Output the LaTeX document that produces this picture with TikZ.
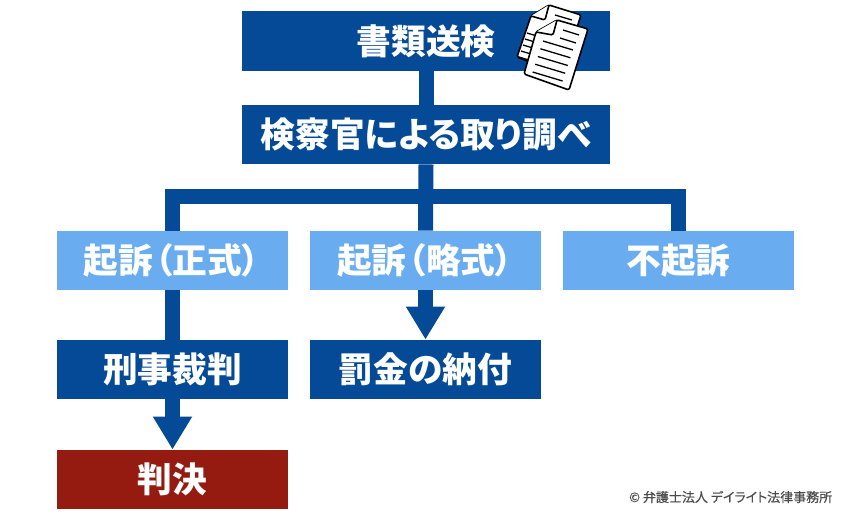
\documentclass[tikz,border=0pt]{standalone}
\usepackage{fontspec}
\newfontfamily\cjk[RawFeature=+palt]{Noto Sans CJK JP}
\newfontfamily\cjkthin[RawFeature=+palt,FakeBold=0.5]{Noto Sans CJK JP}
\usetikzlibrary{arrows.meta,positioning}
\definecolor{navy}{HTML}{044A96}
\definecolor{sky}{HTML}{69ADF0}
\definecolor{crimson}{HTML}{951A10}

\begin{document}
\begin{tikzpicture}[
    x=1pt, y=-1pt,
    block/.style={fill=navy, text=white, minimum height=59.5pt, inner sep=0pt, font=\cjk\fontsize{34.7}{35}\selectfont\bfseries},
    wide/.style={block, minimum width=368pt},
    narrow/.style={block, minimum width=231pt},
    branch/.style={narrow, fill=sky},
    verdict/.style={narrow, fill=crimson},
    link/.style={draw=navy, line width=15pt},
    arrow/.style={link, -{Triangle[length=33pt,width=37pt,fill=navy]}},
    sheet/.style={draw=black, fill=white, line width=1.6pt, rounded corners=1.5pt, line join=round},
    rule/.style={draw=black, line width=1.3pt},
]
    \useasboundingbox (0,0) rectangle (850,515);

    \node[wide] (soken) at (426,41) {書類送検};
    \node[wide] (shirabe) at (426,134.5) {検察官による取り調べ};
    \node[branch] (seishiki) at (172.5,260.5) {\kern-2pt 起訴\kern2pt（正式）};
    \node[branch] (ryakushiki) at (425.5,260.5) {\kern-1pt 起訴\kern2pt（略式）};
    \node[branch] (fukiso) at (678.5,260.5) {不起訴};
    \node[narrow] (saiban) at (172.5,369.5) {刑事裁判};
    \node[narrow] (bakkin) at (425.5,369.5) {罰金の納付};
    \node[verdict] (hanketsu) at (172.5,479.5) {判決};
    \coordinate (fork) at (426,196.5);

    \draw[link] (soken.south) -- (shirabe.north);
    \draw[link] (shirabe.south) -- (ryakushiki.north);
    \draw[link] (seishiki.north) |- (fork) -| (fukiso.north);
    \draw[link] (seishiki.south) -- (saiban.north);
    \draw[arrow] (saiban.south) -- (hanketsu.north);
    \draw[arrow] (ryakushiki.south) -- (bakkin.north);

    % papers on the top box
    \path[sheet] (531,16) -- (549,5) -- (581,15) -- (562,74) -- (517,57) -- cycle;
    \path[sheet] (549,5) -- (545,20) -- (531,16);
    \draw[rule] (555,15) -- (572,20);
    \foreach \i in {0,...,4}
        \draw[rule] (527-\i*2,33+\i*6) -- (560-\i*2,43+\i*6);
    \path[sheet] (536,32) -- (557,20) -- (588,29) -- (569,90) -- (524,74) -- cycle;
    \path[sheet] (557,20) -- (553,35) -- (536,32);
    \draw[rule] (563,30) -- (579,35);
    \draw[rule] (560,38) -- (576,43);
    \foreach \i in {0,...,4}
        \draw[rule] (543-\i*2.6,41+\i*7.75) -- (573-\i*2.6,50+\i*7.75);

    \node[anchor=west, inner sep=0pt, text=black!70, font=\cjkthin\fontsize{13}{13}\selectfont] (credit) at (629,497) {© 弁護士法人 デイライト法律事務所};
\end{tikzpicture}
\end{document}
